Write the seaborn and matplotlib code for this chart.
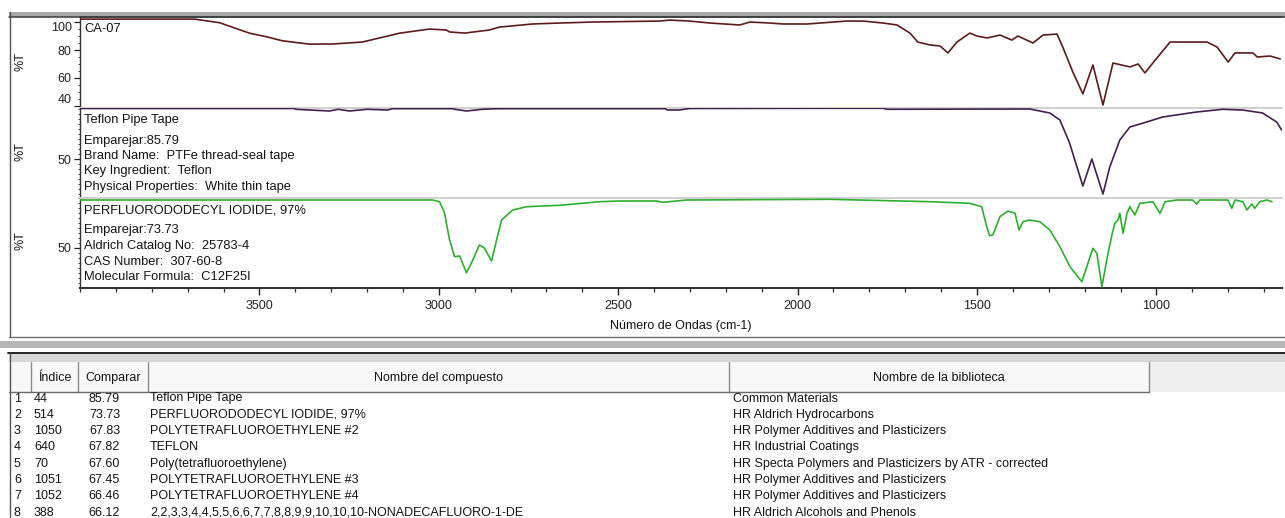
import matplotlib
matplotlib.use("Agg")
import matplotlib.pyplot as plt
from matplotlib.patches import Rectangle
from matplotlib.ticker import FixedLocator, MultipleLocator
import seaborn as sns

# ---------------- spectra: wavenumber (cm-1) and %T ----------------
sample_wn = [4000, 3681, 3611, 3527, 3481, 3436, 3361, 3296, 3213, 3110, 3026, 2979, 2970,
             2928, 2859, 2831, 2739, 2663, 2571, 2384, 2357, 2301, 2245, 2161, 2133, 2078,
             2041, 1974, 1863, 1818, 1762, 1723, 1687, 1665, 1631, 1603, 1581, 1556, 1520,
             1500, 1472, 1436, 1403, 1386, 1344, 1316, 1277, 1261, 1233, 1205, 1177, 1149,
             1121, 1074, 1051, 1032, 1010, 962, 859, 831, 800, 781, 731, 719, 683, 655]
sample_t = [102.1, 102.1, 99.5, 92.0, 89.5, 86.6, 84.2, 84.3, 85.7, 92.0, 95.0, 94.3, 92.9,
            92.1, 94.3, 96.4, 98.6, 99.3, 100.0, 100.7, 101.4, 100.7, 99.3, 97.9, 100.0, 99.3,
            98.6, 98.6, 100.7, 100.7, 99.3, 97.9, 92.1, 85.7, 83.6, 82.9, 77.9, 85.7, 92.1,
            90.0, 88.6, 90.7, 87.1, 90.0, 85.0, 90.7, 91.4, 82.1, 64.3, 48.6, 69.3, 40.7,
            70.7, 67.9, 70.0, 63.6, 70.7, 85.7, 85.7, 82.1, 71.4, 77.9, 77.9, 75.0, 75.7, 73.6]

teflon_wn = [4000, 3402, 3398, 3305, 3280, 3249, 3200, 3143, 3129, 2960, 2956, 2923, 2880,
             2839, 2370, 2362, 2329, 2301, 1910, 1760, 1752, 1353, 1297, 1269, 1242, 1205,
             1180, 1149, 1130, 1102, 1074, 1027, 983, 888, 816, 760, 704, 665, 651]
teflon_t = [100.5, 100.5, 99.7, 98.0, 99.7, 98.0, 99.7, 99.0, 100.3, 100.3, 99.7, 98.0, 99.7,
            100.3, 100.3, 99.0, 99.0, 100.5, 100.7, 100.7, 99.7, 100.0, 96.0, 89.0, 66.0, 23.0,
            50.0, 15.0, 42.0, 69.0, 82.0, 87.0, 92.0, 97.0, 99.7, 99.0, 96.0, 87.0, 79.0]

iodide_wn = [4000, 3018, 2998, 2984, 2970, 2956, 2942, 2923, 2909, 2887, 2873, 2853, 2839,
             2825, 2794, 2755, 2663, 2552, 2496, 2393, 2376, 2309, 1910, 1631, 1520, 1487,
             1473, 1465, 1456, 1436, 1414, 1394, 1383, 1372, 1353, 1325, 1297, 1269, 1241,
             1208, 1194, 1177, 1166, 1152, 1135, 1124, 1116, 1107, 1102, 1093, 1082, 1074,
             1060, 1046, 1010, 990, 976, 943, 899, 888, 879, 801, 790, 781, 759, 748, 734,
             726, 712, 692, 678]
iodide_t = [97.7, 97.7, 96.0, 84.7, 57.7, 41.0, 41.7, 25.0, 34.7, 52.7, 49.7, 36.7, 57.7,
            77.7, 87.7, 91.0, 92.4, 96.0, 96.7, 96.7, 95.4, 97.7, 98.4, 96.0, 94.4, 91.0,
            71.0, 62.0, 62.7, 81.0, 86.7, 84.4, 67.7, 76.0, 77.7, 76.0, 67.7, 51.0, 31.0,
            16.0, 31.0, 49.4, 44.4, 11.0, 44.4, 62.7, 74.4, 77.7, 84.4, 64.4, 84.4, 91.0,
            82.7, 94.4, 96.0, 84.4, 96.0, 97.7, 97.7, 93.7, 97.7, 97.7, 89.4, 97.7, 96.0,
            87.7, 93.7, 89.4, 96.0, 97.7, 96.0]

sample_name = "CA-07"
x_ticks = [3500, 3000, 2500, 2000, 1500, 1000]
x_label = "Número de Ondas (cm-1)"
y_label = "%T"

# ---------------- library search hits ----------------
hit_rank = [1, 2, 3, 4, 5, 6, 7, 8]
hit_index = ["44", "514", "1050", "640", "70", "1051", "1052", "388"]
hit_score = [85.79, 73.73, 67.83, 67.82, 67.60, 67.45, 66.46, 66.12]
hit_compound = ["Teflon Pipe Tape", "PERFLUORODODECYL IODIDE, 97%",
                "POLYTETRAFLUOROETHYLENE #2", "TEFLON", "Poly(tetrafluoroethylene)",
                "POLYTETRAFLUOROETHYLENE #3", "POLYTETRAFLUOROETHYLENE #4",
                "2,2,3,3,4,4,5,5,6,6,7,7,8,8,9,9,10,10,10-NONADECAFLUORO-1-DE"]
hit_library = ["Common Materials", "HR Aldrich Hydrocarbons",
               "HR Polymer Additives and Plasticizers", "HR Industrial Coatings",
               "HR Specta Polymers and Plasticizers by ATR - corrected",
               "HR Polymer Additives and Plasticizers", "HR Polymer Additives and Plasticizers",
               "HR Aldrich Alcohols and Phenols"]
table_headers = ["Índice", "Comparar", "Nombre del compuesto", "Nombre de la biblioteca"]

teflon_info = [hit_compound[0], f"Emparejar:{hit_score[0]:.2f}",
               "Brand Name:  PTFe thread-seal tape", "Key Ingredient:  Teflon",
               "Physical Properties:  White thin tape"]
iodide_info = [hit_compound[1], f"Emparejar:{hit_score[1]:.2f}",
               "Aldrich Catalog No:  25783-4", "CAS Number:  307-60-8",
               "Molecular Formula:  C12F25I"]

# ---------------- figure setup ----------------
sns.set_style("white")
plt.rcParams["font.family"] = ["Liberation Sans", "DejaVu Sans"]
plt.rcParams["font.size"] = 9

W, H = 1285, 518
fig = plt.figure(figsize=(W / 100, H / 100), dpi=100)
TXT = "#141414"

# pixel-space canvas for the window frame and the hit list
bg = fig.add_axes([0, 0, 1, 1], zorder=0)
bg.set_xlim(0, W)
bg.set_ylim(H, 0)
bg.axis("off")

bg.add_patch(Rectangle((9, 12), W - 9, 4.5, color="#a9a9a9", lw=0))
bg.plot([9, W], [17, 17], color="#3c3c3c", lw=1.1)
bg.plot([9.5, 9.5], [12, 337], color="#555555", lw=1)
bg.plot([9, W], [337, 337], color="#707070", lw=1)
bg.add_patch(Rectangle((0, 340.5), W, 7.5, color="#b6b6b6", lw=0))
bg.plot([8, W], [352.5, 352.5], color="#111111", lw=1.3)
bg.add_patch(Rectangle((9, 354), W - 9, 8, color="#d6d6d6", lw=0))
bg.add_patch(Rectangle((9, 362), 1149 - 9, 30, facecolor="#f8f8f8", lw=0))
bg.add_patch(Rectangle((1149, 362), W - 1149, 30, facecolor="#efefef", lw=0))
bg.plot([9.5, 9.5], [353, H], color="#555555", lw=1)
for cx in [31, 78, 148, 729, 1149]:
    bg.plot([cx, cx], [362, 392], color="#8a8a8a", lw=1)
bg.plot([9, 1149], [392, 392], color="#6a6a6a", lw=1)

header_x = [54.5, 113, 438, 939]
for hx, htxt in zip(header_x, table_headers):
    bg.text(hx, 378, htxt, ha="center", va="center", color=TXT, fontsize=9)

for i in range(len(hit_rank)):
    ry = 398.5 + i * 16.3
    bg.text(14, ry, str(hit_rank[i]), ha="left", va="center", color=TXT, fontsize=9)
    bg.text(34, ry, hit_index[i], ha="left", va="center", color=TXT, fontsize=9)
    bg.text(120, ry, f"{hit_score[i]:.2f}", ha="right", va="center", color=TXT, fontsize=9)
    bg.text(150, ry, hit_compound[i], ha="left", va="center", color=TXT, fontsize=9)
    bg.text(733, ry, hit_library[i], ha="left", va="center", color=TXT, fontsize=9)

# ---------------- stacked spectra ----------------
L, R = 80, 1282
panels = [
    dict(top=17, bottom=107.5, wn=sample_wn, t=sample_t, color="#5e1b1b",
         ylim=(38.9, 103.6), yticks=[40, 60, 80, 100], ylab_y=62),
    dict(top=107.5, bottom=197.5, wn=teflon_wn, t=teflon_t, color="#42204f",
         ylim=(11.5, 101.5), yticks=[50], ylab_y=152),
    dict(top=197.5, bottom=287.5, wn=iodide_wn, t=iodide_t, color="#2fae2f",
         ylim=(10.2, 100.2), yticks=[50], ylab_y=241),
]

axes = []
for k, p in enumerate(panels):
    ax = fig.add_axes([L / W, 1 - p["bottom"] / H, (R - L) / W, (p["bottom"] - p["top"]) / H],
                      zorder=2)
    ax.patch.set_alpha(0)
    sns.lineplot(x=p["wn"], y=p["t"], ax=ax, color=p["color"], linewidth=1.2,
                 estimator=None, sort=False, zorder=4)
    ax.set_xlim(4000, 650)
    ax.set_ylim(*p["ylim"])
    ax.set_xlabel("")
    ax.set_ylabel("")

    ax.yaxis.set_major_locator(FixedLocator(p["yticks"]))
    ax.yaxis.set_minor_locator(MultipleLocator(5))
    ax.tick_params(axis="y", which="major", direction="out", length=4, width=0.9,
                   pad=2, labelsize=9, colors="#222222", left=True)
    ax.tick_params(axis="y", which="minor", direction="out", length=1.8, width=0.7,
                   colors="#444444", left=True)

    for side in ["right", "bottom"]:
        ax.spines[side].set_visible(False)
    ax.spines["left"].set_color("#333333")
    ax.spines["left"].set_linewidth(1.0)
    if k == 0:
        ax.spines["top"].set_color("#3c3c3c")
        ax.spines["top"].set_linewidth(1.1)
    else:
        ax.spines["top"].set_color("#cfcfcf")
        ax.spines["top"].set_linewidth(1.4)

    fig.text(20 / W, 1 - p["ylab_y"] / H, y_label, rotation=90, ha="center", va="center",
             color=TXT, fontsize=9)
    axes.append(ax)

# tick labels at the panel edges sit inside the panel
top_labels = axes[0].get_yticklabels()
top_labels[-1].set_va("top")
top_labels[0].set_va("bottom")

for ax in axes[:2]:
    ax.tick_params(axis="x", which="both", bottom=False, labelbottom=False)

axb = axes[2]
axb.spines["bottom"].set_visible(True)
axb.spines["bottom"].set_color("#333333")
axb.spines["bottom"].set_linewidth(1.5)
axb.xaxis.set_major_locator(FixedLocator(x_ticks))
axb.xaxis.set_minor_locator(MultipleLocator(100))
axb.tick_params(axis="x", which="major", direction="out", length=5, width=1,
                pad=4, labelsize=9, colors="#222222", bottom=True)
axb.tick_params(axis="x", which="minor", direction="out", length=3, width=0.9,
                colors="#333333", bottom=True)

# sample name and library-hit notes inside the panels
fig.text(84 / W, 1 - 29.3 / H, sample_name, ha="left", va="center", color=TXT, fontsize=9.3)
for ty, line in zip([120, 140.5, 156, 171, 187], teflon_info):
    fig.text(84 / W, 1 - ty / H, line, ha="left", va="center", color=TXT, fontsize=9.3)
for ty, line in zip([210, 230.5, 246.5, 262, 277.5], iodide_info):
    fig.text(84 / W, 1 - ty / H, line, ha="left", va="center", color=TXT, fontsize=9.3)

fig.text(681 / W, 1 - 326 / H, x_label, ha="center", va="center", color=TXT, fontsize=9)

fig.savefig("out.png", dpi=100, facecolor="white")
